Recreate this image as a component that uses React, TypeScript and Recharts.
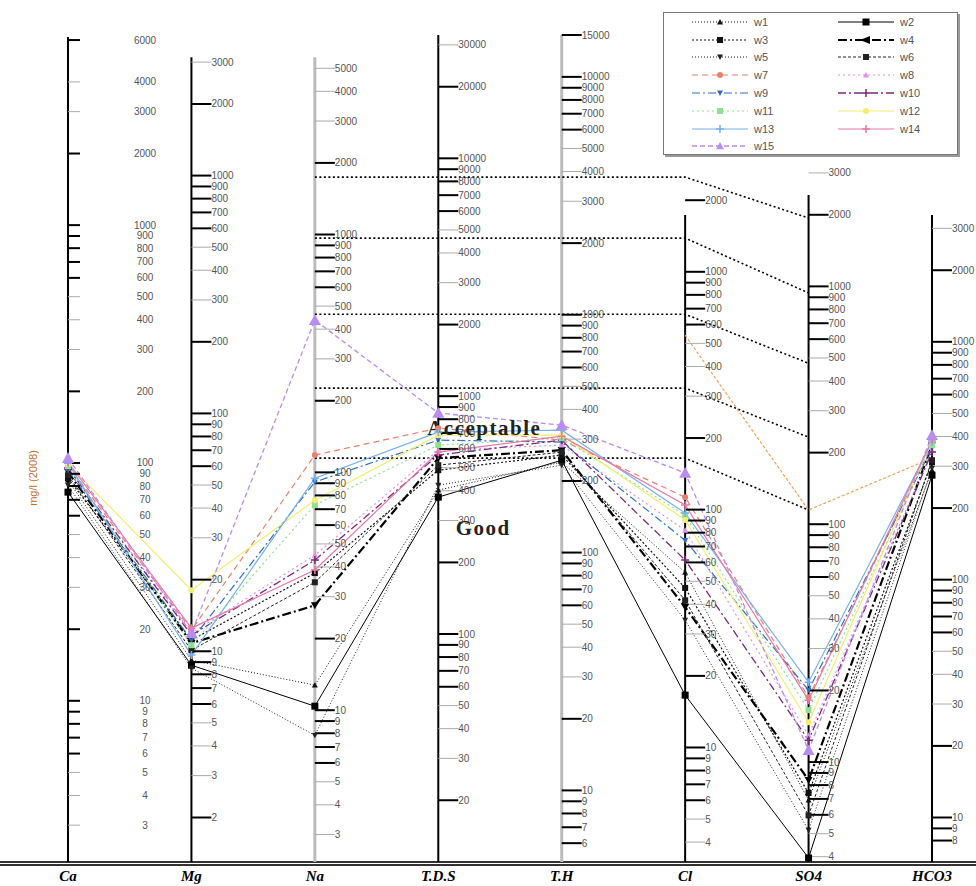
import React from 'react';
import { LineChart, Line, XAxis, YAxis, ReferenceLine, ReferenceDot, Legend } from 'recharts';

// parameters on the horizontal axis
const PARAMS = ['Ca', 'Mg', 'Na', 'T.D.S', 'T.H', 'Cl', 'SO4', 'HCO3'];
// mg/l per meq/l used to hang each axis' labels on the common log scale
const DIVISORS = [21, 13, 23, 110, 50, 33, 38, 65];
// top of each vertical axis (meq/l)
const AXIS_TOP = [294, 242, 242, 300, 300, 52.5, 63.7, 52.5];

const CA_TICKS = [3, 4, 5, 6, 7, 8, 9, 10, 20, 30, 40, 50, 60, 70, 80, 90, 100, 200, 300, 400, 500, 600, 700, 800, 900, 1000, 2000, 3000, 4000, 6000];
const MG_TICKS = [2, 3, 4, 5, 6, 7, 8, 9, 10, 20, 30, 40, 50, 60, 70, 80, 90, 100, 200, 300, 400, 500, 600, 700, 800, 900, 1000, 2000, 3000];
const NA_TICKS = [3, 4, 5, 6, 7, 8, 9, 10, 20, 30, 40, 50, 60, 70, 80, 90, 100, 200, 300, 400, 500, 600, 700, 800, 900, 1000, 2000, 3000, 4000, 5000];
const TDS_TICKS = [20, 30, 40, 50, 60, 70, 80, 90, 100, 200, 300, 400, 500, 600, 700, 800, 900, 1000, 2000, 3000, 4000, 5000, 6000, 7000, 8000, 9000, 10000, 20000, 30000];
const TH_TICKS = [6, 7, 8, 9, 10, 20, 30, 40, 50, 60, 70, 80, 90, 100, 200, 300, 400, 500, 600, 700, 800, 900, 1000, 2000, 3000, 4000, 5000, 6000, 7000, 8000, 9000, 10000, 15000];
const CL_TICKS = [4, 5, 6, 7, 8, 9, 10, 20, 30, 40, 50, 60, 70, 80, 90, 100, 200, 300, 400, 500, 600, 700, 800, 900, 1000, 2000];
const SO4_TICKS = [4, 5, 6, 7, 8, 9, 10, 20, 30, 40, 50, 60, 70, 80, 90, 100, 200, 300, 400, 500, 600, 700, 800, 900, 1000, 2000, 3000];
const HCO3_TICKS = [8, 9, 10, 20, 30, 40, 50, 60, 70, 80, 90, 100, 200, 300, 400, 500, 600, 700, 800, 900, 1000, 2000, 3000];
const TICKS = [CA_TICKS, MG_TICKS, NA_TICKS, TDS_TICKS, TH_TICKS, CL_TICKS, SO4_TICKS, HCO3_TICKS];

// well values, meq/l, in PARAMS order
const W1 = [4.03, 0.706, 0.554, 3.66, 4.8, 1.65, 0.182, 4.44];
const W2 = [3.59, 0.672, 0.452, 3.42, 4.89, 0.503, 0.104, 4.23];
const W3 = [4.11, 0.857, 1.64, 4.44, 5.14, 1.42, 0.195, 4.8];
const W4 = [4.36, 0.832, 1.2, 4.99, 5.39, 1.18, 0.221, 5.66];
const W5 = [3.84, 0.653, 0.341, 3.84, 4.66, 1.04, 0.136, 4.53];
const W6 = [4.23, 0.777, 1.5, 4.66, 5.29, 1.26, 0.157, 4.89];
const W7 = [4.66, 0.944, 5.14, 6.67, 5.94, 3.42, 0.493, 5.66];
const W8 = [4.53, 0.917, 1.95, 5.39, 5.66, 2.48, 0.341, 5.39];
const W9 = [4.44, 0.857, 3.96, 5.94, 5.83, 2.25, 0.528, 5.5];
const W10 = [4.53, 0.899, 1.86, 5.14, 5.94, 1.86, 0.325, 5.29];
const W11 = [4.62, 0.816, 3.17, 5.66, 6.06, 2.87, 0.435, 5.66];
const W12 = [4.71, 1.39, 3.32, 6.23, 6.23, 2.74, 0.387, 5.94];
const W13 = [4.75, 0.741, 4.11, 6.42, 6.54, 2.93, 0.57, 5.83];
const W14 = [4.8, 0.962, 1.69, 5.29, 6.17, 3.17, 0.479, 5.94];
const W15 = [4.99, 0.917, 18.98, 7.72, 6.87, 4.32, 0.295, 6.23];
const WELLS = ['w1', 'w2', 'w3', 'w4', 'w5', 'w6', 'w7', 'w8', 'w9', 'w10', 'w11', 'w12', 'w13', 'w14', 'w15'];
const WELL_DATA = [W1, W2, W3, W4, W5, W6, W7, W8, W9, W10, W11, W12, W13, W14, W15];

// class limits: level from Na to Cl, then value at SO4
const LIMITS = [75.8, 42.0, 20.1, 9.83, 4.99];
const LIMITS_SO4 = [51.0, 24.7, 12.5, 6.11, 3.02];
// orange guide line (Cl, SO4, HCO3)
const GUIDE = [null, null, null, null, null, 16.4, 3.02, 4.99];

type Mark = 'square' | 'circle' | 'tri' | 'triDown' | 'plus' | 'arrow';
const STYLES: Record<string, { color: string; width: number; dash?: string; mark: Mark; size: number }> = {
  w1: { color: '#111', width: 1, dash: '1 2', mark: 'tri', size: 3 },
  w2: { color: '#000', width: 1, mark: 'square', size: 3.5 },
  w3: { color: '#111', width: 1.2, dash: '2 2', mark: 'square', size: 3 },
  w4: { color: '#000', width: 2.2, dash: '9 3 2 3', mark: 'triDown', size: 4 },
  w5: { color: '#222', width: 1, dash: '1 2', mark: 'triDown', size: 3 },
  w6: { color: '#222', width: 1, dash: '3 2', mark: 'square', size: 3 },
  w7: { color: '#e8806a', width: 1.2, dash: '6 4', mark: 'circle', size: 3 },
  w8: { color: '#e090e8', width: 1.2, dash: '2 3', mark: 'tri', size: 3 },
  w9: { color: '#2f6fbf', width: 1.2, dash: '8 3 2 3', mark: 'triDown', size: 3 },
  w10: { color: '#7a2a7a', width: 1.3, dash: '8 3 2 3', mark: 'plus', size: 4 },
  w11: { color: '#8fe08f', width: 1.2, dash: '2 3', mark: 'square', size: 3 },
  w12: { color: '#f2ee70', width: 1.2, mark: 'circle', size: 3 },
  w13: { color: '#78b0ee', width: 1.2, mark: 'plus', size: 4 },
  w14: { color: '#e878a8', width: 1.2, mark: 'plus', size: 4 },
  w15: { color: '#b98cf0', width: 1.3, dash: '5 3', mark: 'tri', size: 6 },
};

const rows = PARAMS.map((param, i) => {
  const row: Record<string, any> = { param };
  WELLS.forEach((w, k) => (row[w] = WELL_DATA[k][i]));
  LIMITS.forEach((lvl, k) => {
    row[`lim${k}`] = i >= 2 && i <= 5 ? lvl : i === 6 ? LIMITS_SO4[k] : null;
  });
  row.guide = GUIDE[i];
  return row;
});

function marker(kind: Mark, cx: number, cy: number, s: number, color: string, key?: string) {
  switch (kind) {
    case 'square':
      return <rect key={key} x={cx - s} y={cy - s} width={2 * s} height={2 * s} fill={color} />;
    case 'circle':
      return <circle key={key} cx={cx} cy={cy} r={s} fill={color} />;
    case 'tri':
      return <polygon key={key} points={`${cx},${cy - s} ${cx - s},${cy + s * 0.8} ${cx + s},${cy + s * 0.8}`} fill={color} />;
    case 'triDown':
      return <polygon key={key} points={`${cx},${cy + s} ${cx - s},${cy - s * 0.8} ${cx + s},${cy - s * 0.8}`} fill={color} />;
    case 'arrow':
      return <polygon key={key} points={`${cx - s * 1.5},${cy} ${cx + s},${cy - s} ${cx + s},${cy + s}`} fill={color} />;
    default:
      return (
        <path key={key} d={`M${cx - s},${cy}H${cx + s}M${cx},${cy - s}V${cy + s}`} stroke={color} strokeWidth={1.5} />
      );
  }
}

const mantissa = (v: number) => Math.round(v / Math.pow(10, Math.floor(Math.log10(v))));

const tickShape = (axis: number, value: number) => (p: any) => {
  const major = ![3, 4, 5].includes(mantissa(value));
  const len = axis === 0 ? 12 : 20;
  return (
    <g>
      <line
        x1={p.cx}
        x2={p.cx + len}
        y1={p.cy}
        y2={p.cy}
        stroke={major ? '#000' : '#aaa'}
        strokeWidth={major ? 2 : 1}
      />
      <text
        x={p.cx + (axis === 0 ? 77 : 20)}
        y={p.cy}
        dy="0.35em"
        textAnchor={axis === 0 ? 'middle' : 'start'}
        fontSize={10}
        fontFamily="Liberation Sans, sans-serif"
        fill="#555"
      >
        {value}
      </text>
    </g>
  );
};

const AxisTick = ({ x, y, payload }: any) => (
  <text
    x={x}
    y={y}
    dy="0.71em"
    textAnchor="middle"
    fill="#000"
    style={{ fontFamily: '"Liberation Serif", serif', fontWeight: 'bold', fontStyle: 'italic', fontSize: 15 }}
  >
    {payload.value}
  </text>
);

const WellLegend = () => (
  <div
    style={{
      width: 295,
      height: 143,
      boxSizing: 'border-box',
      background: '#fff',
      border: '1px solid #777',
      boxShadow: '2px 2px 0 #999',
      padding: '0 0 0 28px',
      display: 'grid',
      gridTemplateColumns: '146px 120px',
      gridAutoRows: '17.8px',
    }}
  >
    {WELLS.map((w) => {
      const s = STYLES[w];
      return (
        <div key={w} style={{ display: 'flex', alignItems: 'center' }}>
          <svg width={56} height={14}>
            <line x1={0} x2={56} y1={7} y2={7} stroke={s.color} strokeWidth={s.width} strokeDasharray={s.dash} />
            {marker(w === 'w4' ? 'arrow' : s.mark, 28, 7, Math.min(s.size, 4), s.color)}
          </svg>
          <span style={{ marginLeft: 6, fontFamily: 'Liberation Sans, sans-serif', fontSize: 11, color: '#555' }}>{w}</span>
        </div>
      );
    })}
  </div>
);

export default function App() {
  return (
    <div style={{ position: 'absolute', left: 0, top: 0, width: 976, height: 886, background: '#fff' }}>
      <div
        style={{
          position: 'absolute',
          left: 0,
          top: 861,
          width: 976,
          height: 1,
          borderTop: '2px solid #333',
          borderBottom: '2px solid #333',
        }}
      />
      <div
        style={{
          position: 'absolute',
          left: 33,
          top: 478,
          transform: 'translate(-50%, -50%) rotate(-90deg)',
          color: '#c0702a',
          fontFamily: 'Liberation Sans, sans-serif',
          fontSize: 11,
          whiteSpace: 'nowrap',
        }}
      >
        mg/l (2008)
      </div>
      <LineChart width={976} height={886} data={rows} margin={{ top: 35, right: 44, bottom: 0, left: 68 }}>
        <XAxis
          dataKey="param"
          type="category"
          axisLine={false}
          tickLine={false}
          interval={0}
          height={24}
          tick={<AxisTick />}
        />
        <YAxis hide type="number" scale="log" domain={[0.1, 300]} allowDataOverflow />
        {PARAMS.map((p, i) => (
          <ReferenceLine
            key={`ax-${p}`}
            segment={[
              { x: p, y: 0.1 },
              { x: p, y: AXIS_TOP[i] },
            ]}
            stroke={p === 'Na' || p === 'T.H' ? '#bbb' : '#000'}
            strokeWidth={p === 'Na' || p === 'T.H' ? 3 : 2}
            ifOverflow="visible"
          />
        ))}
        {TICKS.map((list, i) =>
          list.map((v) => (
            <ReferenceDot
              key={`t-${i}-${v}`}
              x={PARAMS[i]}
              y={v / DIVISORS[i]}
              r={0}
              ifOverflow="visible"
              shape={tickShape(i, v)}
            />
          ))
        )}
        {LIMITS.map((_, k) => (
          <Line
            key={`lim${k}`}
            dataKey={`lim${k}`}
            stroke="#000"
            strokeWidth={1.6}
            strokeDasharray="2 2.5"
            dot={false}
            activeDot={false}
            legendType="none"
            isAnimationActive={false}
          />
        ))}
        <Line
          dataKey="guide"
          stroke="#f0a050"
          strokeWidth={1.2}
          strokeDasharray="3 2"
          dot={false}
          activeDot={false}
          legendType="none"
          isAnimationActive={false}
        />
        {WELLS.map((w) => {
          const s = STYLES[w];
          return (
            <Line
              key={w}
              dataKey={w}
              stroke={s.color}
              strokeWidth={s.width}
              strokeDasharray={s.dash}
              activeDot={false}
              isAnimationActive={false}
              dot={(p: any) =>
                p.cx == null || p.cy == null ? (
                  <g key={`${w}-${p.index}`} />
                ) : (
                  marker(s.mark, p.cx, p.cy, s.size, s.color, `${w}-${p.index}`)
                )
              }
            />
          );
        })}
        <ReferenceDot
          x="T.D.S"
          y={LIMITS[4]}
          r={0}
          shape={(p: any) => (
            <g>
              <text
                x={p.cx + 46}
                y={p.cy - 30}
                dy="0.35em"
                textAnchor="middle"
                fill="#222"
                style={{ fontFamily: '"Liberation Serif", serif', fontWeight: 'bold', fontSize: 21, letterSpacing: 1.5 }}
              >
                Acceptable
              </text>
              <text
                x={p.cx + 45}
                y={p.cy + 70}
                dy="0.35em"
                textAnchor="middle"
                fill="#222"
                style={{ fontFamily: '"Liberation Serif", serif', fontWeight: 'bold', fontSize: 21, letterSpacing: 1.5 }}
              >
                Good
              </text>
            </g>
          )}
        />
        <Legend
          verticalAlign="middle"
          align="center"
          content={<WellLegend />}
          wrapperStyle={{ left: 663, top: 12, width: 295, height: 143 }}
        />
      </LineChart>
    </div>
  );
}
